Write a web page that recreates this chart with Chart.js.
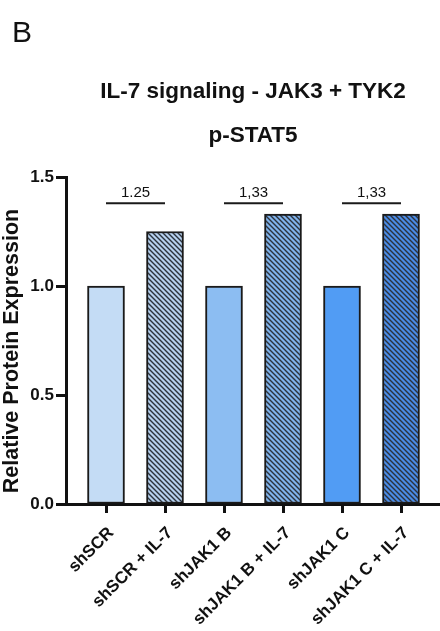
<!DOCTYPE html>
<html>
<head>
<meta charset="utf-8">
<script src="https://cdn.jsdelivr.net/npm/chart.js@4"></script>
<style>
  html, body { margin: 0; padding: 0; background: #fff; }
  #wrap { width: 440px; height: 631px; position: relative; }
</style>
</head>
<body>
<div id="wrap"><canvas id="chart" width="440" height="631"></canvas></div>
<script>
const categories = ["shSCR", "shSCR + IL-7", "shJAK1 B", "shJAK1 B + IL-7", "shJAK1 C", "shJAK1 C + IL-7"];
const values = [1.0, 1.25, 1.0, 1.33, 1.0, 1.33];
const hatched = [false, true, false, true, false, true];
const barColors = ["#c4dcf5", "#b6d1ef", "#8cbdf2", "#80b3ec", "#519cf4", "#4a8be6"];
const yTicks = [0, 0.5, 1.0, 1.5];
// fold-change labels over pairs of bars
const pairs = [[0, 1], [2, 3], [4, 5]];
const pairLabels = ["1.25", "1,33", "1,33"];
const pairLevel = 1.38;

const FONT = "'Liberation Sans', Arial, Helvetica, sans-serif";

function makeHatch(base) {
  const c = document.createElement("canvas");
  c.width = 5; c.height = 5;
  const g = c.getContext("2d");
  g.fillStyle = base;
  g.fillRect(0, 0, 5, 5);
  g.strokeStyle = "#2b323c";
  g.lineWidth = 1.4;
  g.beginPath();
  g.moveTo(-1, -1); g.lineTo(6, 6);
  g.moveTo(-1, 4); g.lineTo(1, 6);
  g.moveTo(4, -1); g.lineTo(6, 1);
  g.stroke();
  return g.createPattern(c, "repeat");
}

const fills = barColors.map((col, i) => hatched[i] ? makeHatch(col) : col);

const decor = {
  id: "decor",
  afterDraw(chart) {
    const ctx = chart.ctx;
    const x = chart.scales.x, y = chart.scales.y;
    const area = chart.chartArea;
    ctx.save();
    ctx.fillStyle = "#111";
    // panel letter
    ctx.font = "30px " + FONT;
    ctx.textAlign = "left";
    ctx.textBaseline = "alphabetic";
    ctx.fillText("B", 12, 42);
    // titles
    ctx.font = "bold 22.5px " + FONT;
    ctx.textAlign = "center";
    const cx = (area.left + area.right) / 2;
    ctx.fillText("IL-7 signaling - JAK3 + TYK2", cx, 98);
    ctx.fillText("p-STAT5", cx, 142);
    // y axis title
    ctx.save();
    ctx.translate(18, 351);
    ctx.rotate(-Math.PI / 2);
    ctx.font = "bold 21.5px " + FONT;
    ctx.fillText("Relative Protein Expression", 0, 0);
    ctx.restore();
    // pair brackets
    ctx.strokeStyle = "#1a1a1a";
    ctx.lineWidth = 2;
    ctx.font = "15px " + FONT;
    pairs.forEach((p, k) => {
      const x1 = x.getPixelForValue(p[0]);
      const x2 = x.getPixelForValue(p[1]);
      const ly = y.getPixelForValue(pairLevel);
      ctx.beginPath();
      ctx.moveTo(x1, ly);
      ctx.lineTo(x2, ly);
      ctx.stroke();
      ctx.fillText(pairLabels[k], (x1 + x2) / 2, ly - 6);
    });
    ctx.restore();
  }
};

new Chart(document.getElementById("chart"), {
  type: "bar",
  data: {
    datasets: [{
      data: values.map((v, i) => ({ x: i, y: v })),
      backgroundColor: fills,
      borderColor: "#1a1a1a",
      borderWidth: 2,
      borderSkipped: false,
      barThickness: 37
    }]
  },
  options: {
    responsive: false,
    animation: false,
    layout: { padding: { top: 177, right: 0, bottom: 0, left: 0 } },
    plugins: { legend: { display: false }, tooltip: { enabled: false }, title: { display: false } },
    scales: {
      x: {
        type: "linear",
        offset: false,
        min: -0.678,
        max: 5.661,
        afterFit(s) { s.height = 127; },
        afterBuildTicks(s) { s.ticks = categories.map((c, i) => ({ value: i })); },
        ticks: {
          autoSkip: false,
          minRotation: 45,
          maxRotation: 45,
          padding: 10,
          labelOffset: 5,
          color: "#111",
          font: { family: FONT, size: 17, weight: "bold" },
          callback: (v) => categories[v]
        },
        grid: { offset: false, drawOnChartArea: false, drawTicks: true, tickLength: 9, tickWidth: 3, tickColor: "#111" },
        border: { display: true, width: 3, color: "#111" }
      },
      y: {
        min: 0,
        max: 1.5,
        afterFit(s) { s.width = 66; },
        afterBuildTicks(s) { s.ticks = yTicks.map(v => ({ value: v })); },
        ticks: {
          padding: 2,
          color: "#111",
          font: { family: FONT, size: 17, weight: "bold" },
          callback: (v) => v.toFixed(1)
        },
        grid: { drawOnChartArea: false, drawTicks: true, tickLength: 10, tickWidth: 3, tickColor: "#111" },
        border: { display: true, width: 3, color: "#111" }
      }
    }
  },
  plugins: [decor]
});
</script>
</body>
</html>
